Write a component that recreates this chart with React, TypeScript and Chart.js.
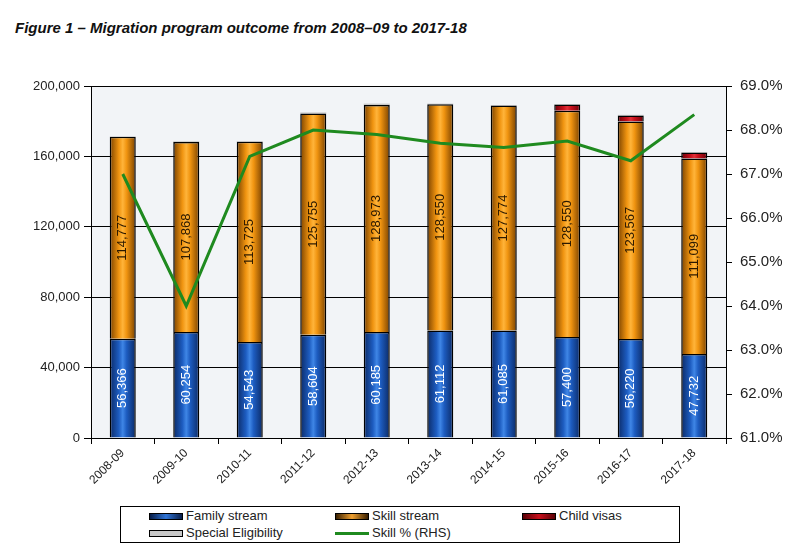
import React, { useEffect, useRef } from 'react';
import { Chart, registerables } from 'chart.js';

Chart.register(...registerables);

const categories = ['2008-09', '2009-10', '2010-11', '2011-12', '2012-13', '2013-14', '2014-15', '2015-16', '2016-17', '2017-18'];
const familyStream = [56366, 60254, 54543, 58604, 60185, 61112, 61085, 57400, 56220, 47732];
const skillStream = [114777, 107868, 113725, 125755, 128973, 128550, 127774, 128550, 123567, 111099];
const childVisas = [0, 0, 0, 0, 0, 0, 0, 3512, 3400, 3350];
const specialEligibility = [175, 501, 417, 639, 842, 338, 238, 308, 421, 236];
const skillPct = [67.0, 64.0, 67.4, 68.0, 67.9, 67.7, 67.6, 67.75, 67.3, 68.35];

const BAR_PCT = 0.41;
const FONT = 'Arial, "Liberation Sans", sans-serif';

// horizontal "cylinder" shading for each bar
function shade(edge: string, mid: string, light: string) {
  return (ctx: any) => {
    const chart = ctx.chart;
    const area = chart.chartArea;
    const xs = chart.scales?.x;
    if (!area || !xs || ctx.dataIndex === undefined) return mid;
    const cx = xs.getPixelForValue(ctx.dataIndex);
    const w = (area.width / categories.length) * BAR_PCT;
    const g = chart.ctx.createLinearGradient(cx - w / 2, 0, cx + w / 2, 0);
    g.addColorStop(0, edge);
    g.addColorStop(0.35, mid);
    g.addColorStop(0.5, light);
    g.addColorStop(0.65, mid);
    g.addColorStop(1, edge);
    return g;
  };
}

const barLabels = {
  id: 'barLabels',
  afterDatasetDraw(chart: any, args: any) {
    if (args.index > 1) return;
    const { ctx } = chart;
    const meta = args.meta;
    const values = args.index === 0 ? familyStream : skillStream;
    ctx.save();
    ctx.font = `13px ${FONT}`;
    ctx.fillStyle = args.index === 0 ? '#ffffff' : '#2a1800';
    ctx.textAlign = 'center';
    ctx.textBaseline = 'middle';
    meta.data.forEach((bar: any, i: number) => {
      const { x, y, base } = bar.getProps(['x', 'y', 'base'], true);
      ctx.save();
      ctx.translate(x, (y + base) / 2);
      ctx.rotate(-Math.PI / 2);
      ctx.fillText(values[i].toLocaleString('en-US'), 0, 0);
      ctx.restore();
    });
    ctx.restore();
  },
};

const plotBg = {
  id: 'plotBg',
  beforeDraw(chart: any) {
    const { ctx, chartArea: a } = chart;
    ctx.save();
    ctx.fillStyle = '#f2f4f7';
    ctx.fillRect(a.left, a.top, a.right - a.left, a.bottom - a.top);
    ctx.restore();
  },
};

const CANVAS_H = 500;

export default function App(): React.JSX.Element {
  const canvasRef = useRef<HTMLCanvasElement | null>(null);

  useEffect(() => {
    if (!canvasRef.current) return;
    const bar = (label: string, data: number[], bg: any, bw = 1.5) => ({
      label,
      data,
      backgroundColor: bg,
      borderColor: '#000',
      borderWidth: bw,
      barPercentage: BAR_PCT,
      categoryPercentage: 1,
      order: 1,
      yAxisID: 'y',
    });
    const chart = new Chart(canvasRef.current, {
      type: 'bar',
      data: {
        labels: categories,
        datasets: [
          bar('Family stream', familyStream, shade('#0b2a66', '#1d5cc0', '#3f86e6')),
          bar('Skill stream', skillStream, shade('#7a4200', '#f09410', '#ffb43a')),
          bar('Child visas', childVisas, shade('#6a0008', '#c8101c', '#e03038')),
          bar('Special Eligibility', specialEligibility, '#c8c8c8', 0),
          {
            type: 'line',
            label: 'Skill % (RHS)',
            data: skillPct,
            borderColor: '#1f8a1f',
            borderWidth: 3,
            pointRadius: 0,
            tension: 0,
            order: 0,
            yAxisID: 'y2',
          } as any,
        ],
      },
      options: {
        animation: false,
        responsive: false,
        layout: { padding: { top: 86, left: 0, right: 0, bottom: 0 } },
        plugins: { legend: { display: false }, tooltip: { enabled: false } },
        scales: {
          x: {
            stacked: true,
            offset: true,
            grid: { offset: true, drawOnChartArea: false, drawTicks: true, tickLength: 6, tickColor: '#000', lineWidth: 1 },
            border: { color: '#000', width: 1 },
            ticks: { minRotation: 45, maxRotation: 45, color: '#222', font: { family: FONT, size: 12 }, padding: 2 },
            afterFit: (s: any) => { s.height = CANVAS_H - 438; },
          },
          y: {
            stacked: true,
            position: 'left',
            min: 0,
            max: 200000,
            ticks: {
              stepSize: 40000,
              color: '#222',
              font: { family: FONT, size: 13 },
              padding: 4,
              callback: (v: any) => Number(v).toLocaleString('en-US'),
            },
            grid: { color: '#000', lineWidth: 1, tickLength: 7, tickColor: '#000' },
            border: { color: '#000', width: 1 },
            afterFit: (s: any) => { s.width = 91; },
          },
          y2: {
            position: 'right',
            min: 61,
            max: 69,
            ticks: {
              stepSize: 1,
              color: '#222',
              font: { family: FONT, size: 15 },
              padding: 8,
              callback: (v: any) => `${Number(v).toFixed(1)}%`,
            },
            grid: { drawOnChartArea: false, tickLength: 6, tickColor: '#000' },
            border: { color: '#000', width: 1 },
            afterFit: (s: any) => { s.width = 798 - 726; },
          },
        },
      },
      plugins: [plotBg, barLabels],
    });
    return () => chart.destroy();
  }, []);

  const swatch = (bg: string, border = '#000', h = 5): React.CSSProperties => ({
    display: 'inline-block',
    width: 32,
    height: h,
    background: bg,
    border: `1px solid ${border}`,
    marginRight: 3,
    verticalAlign: 'middle',
  });
  const item: React.CSSProperties = { position: 'absolute', whiteSpace: 'nowrap', fontSize: 13, lineHeight: '16px', color: '#222' };

  return (
    <div style={{ position: 'fixed', left: 0, top: 0, width: 798, height: 557, background: '#fff', fontFamily: FONT, overflow: 'hidden' }}>
      <div style={{ position: 'absolute', left: 15, top: 19, fontSize: 15, fontWeight: 'bold', fontStyle: 'italic', color: '#111', whiteSpace: 'nowrap' }}>
        Figure 1 – Migration program outcome from 2008–09 to 2017-18
      </div>
      <canvas ref={canvasRef} width={798} height={CANVAS_H} style={{ position: 'absolute', left: 0, top: 0, width: 798, height: CANVAS_H }} />
      <div style={{ position: 'absolute', left: 120, top: 506, width: 558, height: 35, border: '1px solid #000', background: '#fff' }}>
        <div style={{ ...item, left: 28, top: 1 }}><span style={swatch('linear-gradient(90deg,#081d48,#2f74d6,#081d48)')} />Family stream</div>
        <div style={{ ...item, left: 214, top: 1 }}><span style={swatch('linear-gradient(90deg,#3a2000,#f0a030,#3a2000)')} />Skill stream</div>
        <div style={{ ...item, left: 401, top: 1 }}><span style={swatch('linear-gradient(90deg,#5a0006,#c8101c,#5a0006)')} />Child visas</div>
        <div style={{ ...item, left: 28, top: 18 }}><span style={swatch('#c8c8c8')} />Special Eligibility</div>
        <div style={{ ...item, left: 214, top: 18 }}><span style={{ ...swatch('#1f8a1f', '#1f8a1f', 1), height: 1 }} />Skill % (RHS)</div>
      </div>
    </div>
  );
}
